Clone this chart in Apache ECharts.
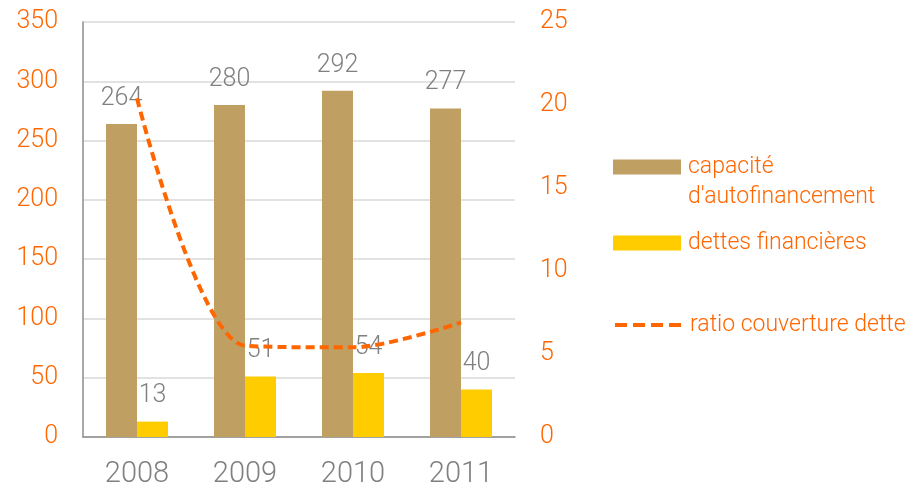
<!DOCTYPE html>
<html>
<head>
<meta charset="utf-8">
<script src="https://cdn.jsdelivr.net/npm/echarts@6/dist/echarts.min.js"></script>
<style>
  html, body { margin: 0; padding: 0; background: #fff; }
  #chart { width: 914px; height: 492px; }
</style>
</head>
<body>
<div id="chart"></div>
<script>
// années
const years = ['2008', '2009', '2010', '2011'];
// capacité d'autofinancement
const cafValues = [264, 280, 292, 277];
// dettes financières
const detteValues = [13, 51, 54, 40];
// ratio couverture dette (axe droit)
const ratioValues = [20.4, 5.5, 5.4, 6.9];

const leftTicks = { min: 0, max: 350, interval: 50 };
const rightTicks = { min: 0, max: 25, interval: 5 };

const orange = '#FF6600';
const grey = '#808080';
const font = 'Roboto';

let myChart = echarts.init(document.getElementById('chart'));

let legendBase = {
  orient: 'vertical',
  left: 613,
  padding: 0,
  itemWidth: 68,
  itemHeight: 15,
  itemGap: 0,
  icon: 'rect',
  textStyle: {
    color: orange,
    fontSize: 23,
    fontFamily: font,
    fontWeight: 300,
    lineHeight: 30,
    padding: [0, 0, 0, 2]
  }
};

let option = {
  animation: false,
  grid: {
    left: 83,
    right: 399,
    top: 22,
    bottom: 55,
    containLabel: false
  },
  legend: [
    Object.assign({}, legendBase, {
      top: 122,
      data: ['capacité d\'autofinancement'],
      // ligne vide en tête pour aligner "capacité" sur le carré
      formatter: () => ' \ncapacité\nd\'autofinancement'
    }),
    Object.assign({}, legendBase, {
      top: 228,
      data: ['dettes financières']
    }),
    Object.assign({}, legendBase, {
      top: 310,
      icon: null,
      itemStyle: { opacity: 0 },
      lineStyle: { width: 4, type: [12, 6] },
      data: ['ratio couverture dette']
    })
  ],
  xAxis: {
    type: 'category',
    data: years,
    axisLine: { lineStyle: { color: '#8c8c8c', width: 1.5 } },
    axisTick: { show: false },
    axisLabel: {
      color: grey,
      fontSize: 29,
      fontFamily: font,
      fontWeight: 300,
      margin: 23
    }
  },
  yAxis: [
    {
      type: 'value',
      min: leftTicks.min,
      max: leftTicks.max,
      interval: leftTicks.interval,
      axisLine: { show: true, lineStyle: { color: '#8c8c8c', width: 1.5 } },
      axisTick: { show: false },
      axisLabel: {
        color: orange,
        fontSize: 25,
        fontFamily: font,
        fontWeight: 300,
        margin: 25
      },
      splitLine: { lineStyle: { color: '#d9d9d9', width: 1.5 } }
    },
    {
      type: 'value',
      min: rightTicks.min,
      max: rightTicks.max,
      interval: rightTicks.interval,
      axisLine: { show: false },
      axisTick: { show: false },
      axisLabel: {
        color: orange,
        fontSize: 25,
        fontFamily: font,
        fontWeight: 300,
        margin: 25
      },
      splitLine: { show: false }
    }
  ],
  series: [
    {
      name: 'capacité d\'autofinancement',
      type: 'bar',
      barWidth: 31,
      barGap: '0%',
      itemStyle: { color: '#BFA062' },
      label: {
        show: true,
        position: 'top',
        distance: 13,
        color: grey,
        fontSize: 25,
        fontFamily: font,
        fontWeight: 300
      },
      data: cafValues
    },
    {
      name: 'dettes financières',
      type: 'bar',
      barWidth: 31,
      itemStyle: { color: '#FFCC00' },
      label: {
        show: true,
        position: 'top',
        distance: 13,
        color: grey,
        fontSize: 25,
        fontFamily: font,
        fontWeight: 300
      },
      data: detteValues
    },
    {
      name: 'ratio couverture dette',
      type: 'line',
      yAxisIndex: 1,
      smooth: 0.3,
      symbol: 'none',
      z: 5,
      itemStyle: { color: orange },
      lineStyle: { color: orange, width: 4, type: [9, 5] },
      data: ratioValues
    }
  ]
};

myChart.setOption(option, true);
</script>
</body>
</html>
